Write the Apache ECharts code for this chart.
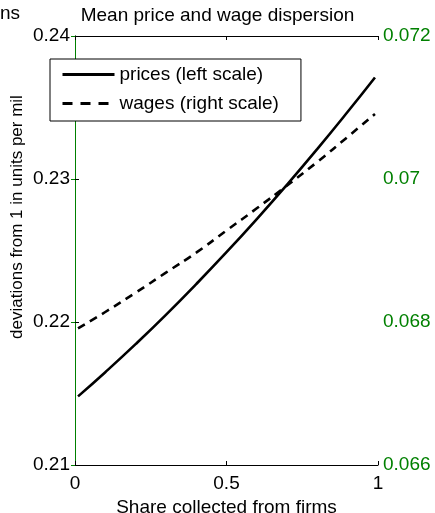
<!DOCTYPE html>
<html>
<head>
<meta charset="utf-8">
<script src="https://cdn.jsdelivr.net/npm/echarts@6/dist/echarts.min.js"></script>
<style>
  html, body { margin: 0; padding: 0; background: #fff; }
  #chart { width: 435px; height: 513px; }
</style>
</head>
<body>
<div id="chart"></div>
<script>
// Share of the tax collected from firms
const share = [0.01, 0.1, 0.2, 0.3, 0.4, 0.5, 0.6, 0.7, 0.8, 0.9, 0.99];
// Mean price dispersion (left scale)
const prices = [0.2148, 0.21649, 0.21845, 0.2205, 0.22265, 0.22488, 0.2272, 0.22961, 0.23211, 0.2347, 0.2371];
// Mean wage dispersion (right scale)
const wages = [0.06791, 0.06814, 0.06841, 0.06869, 0.06897, 0.06928, 0.06959, 0.06991, 0.07024, 0.07059, 0.07091];

const xTicks = [0, 0.5, 1];
const leftTicks = [0.21, 0.22, 0.23, 0.24];
const rightTicks = [0.066, 0.068, 0.07, 0.072];

const FONT = 'Liberation Sans, Arial, sans-serif';
const GREEN = '#008000';

const chart = echarts.init(document.getElementById('chart'), null, { renderer: 'canvas' });

const fmt = v => String(parseFloat(v.toFixed(4)));

chart.setOption({
  animation: false,
  backgroundColor: '#fff',
  textStyle: { fontFamily: FONT },
  title: {
    text: 'Mean price and wage dispersion',
    left: 'center',
    top: 1,
    textStyle: { fontSize: 19, fontWeight: 'normal', color: '#000', fontFamily: FONT }
  },
  grid: { left: 75, right: 57, top: 36, bottom: 48, containLabel: false, outerBoundsMode: 'none' },
  legend: {
    left: 50,
    top: 59,
    orient: 'vertical',
    backgroundColor: '#fff',
    borderColor: '#000',
    borderWidth: 1,
    borderRadius: 0,
    padding: [6, 22, 8, 11],
    itemWidth: 52,
    itemHeight: 14,
    itemGap: 10,
    itemStyle: { opacity: 0 },
    textStyle: { fontSize: 19, color: '#000', fontFamily: FONT },
    data: [
      { name: 'prices (left scale)', lineStyle: { width: 3, type: 'solid', color: '#000' } },
      { name: 'wages (right scale)', lineStyle: { width: 3, type: [10, 8], color: '#000' } }
    ]
  },
  xAxis: [
    {
      type: 'value',
      min: xTicks[0], max: xTicks[xTicks.length - 1], interval: 0.5,
      position: 'bottom',
      name: 'Share collected from firms',
      nameLocation: 'middle',
      nameGap: 30,
      nameTextStyle: { fontSize: 19, color: '#000', fontFamily: FONT },
      axisLine: { lineStyle: { color: '#000', width: 1 } },
      axisTick: { inside: true, length: 4, lineStyle: { color: '#000' } },
      axisLabel: { fontSize: 19, color: '#000', margin: 9, formatter: fmt, fontFamily: FONT },
      splitLine: { show: false }
    },
    {
      type: 'value',
      min: xTicks[0], max: xTicks[xTicks.length - 1], interval: 0.5,
      position: 'top',
      axisLine: { lineStyle: { color: '#000', width: 1 } },
      axisTick: { inside: true, length: 4, lineStyle: { color: '#000' } },
      axisLabel: { show: false },
      splitLine: { show: false }
    }
  ],
  yAxis: [
    {
      type: 'value',
      min: leftTicks[0], max: leftTicks[leftTicks.length - 1], interval: 0.01,
      position: 'left',
      axisLine: { show: true, lineStyle: { color: '#000', width: 1 } },
      axisTick: { show: true, inside: true, length: 4, lineStyle: { color: '#000' } },
      axisLabel: { fontSize: 19, color: '#000', margin: 5, formatter: fmt, fontFamily: FONT },
      splitLine: { show: false }
    },
    {
      type: 'value',
      min: rightTicks[0], max: rightTicks[rightTicks.length - 1], interval: 0.002,
      position: 'right',
      axisLine: { show: true, lineStyle: { color: GREEN, width: 1 } },
      axisTick: { show: true, inside: true, length: 4, lineStyle: { color: GREEN } },
      axisLabel: { fontSize: 19, color: GREEN, margin: 5, formatter: fmt, fontFamily: FONT },
      splitLine: { show: false }
    }
  ],
  graphic: [
    {
      type: 'text',
      left: 0, top: 4,
      style: { text: 'ns', font: '19px ' + FONT, fill: '#000' }
    },
    {
      type: 'text',
      x: 9, y: 217,
      rotation: Math.PI / 2,
      style: {
        text: 'deviations from 1 in units per mil',
        font: '17px ' + FONT,
        fill: '#000',
        align: 'center',
        verticalAlign: 'top'
      }
    }
  ],
  series: [
    {
      name: 'prices (left scale)',
      type: 'line',
      xAxisIndex: 0,
      yAxisIndex: 0,
      data: share.map((s, i) => [s, prices[i]]),
      smooth: true,
      showSymbol: false,
      symbol: 'none',
      lineStyle: { color: '#000', width: 2.6, type: 'solid' },
      itemStyle: { color: '#000' }
    },
    {
      name: 'wages (right scale)',
      type: 'line',
      xAxisIndex: 0,
      yAxisIndex: 1,
      data: share.map((s, i) => [s, wages[i]]),
      smooth: true,
      showSymbol: false,
      symbol: 'none',
      lineStyle: { color: '#000', width: 2.6, type: [8, 6] },
      itemStyle: { color: '#000' }
    }
  ]
});
</script>
</body>
</html>
